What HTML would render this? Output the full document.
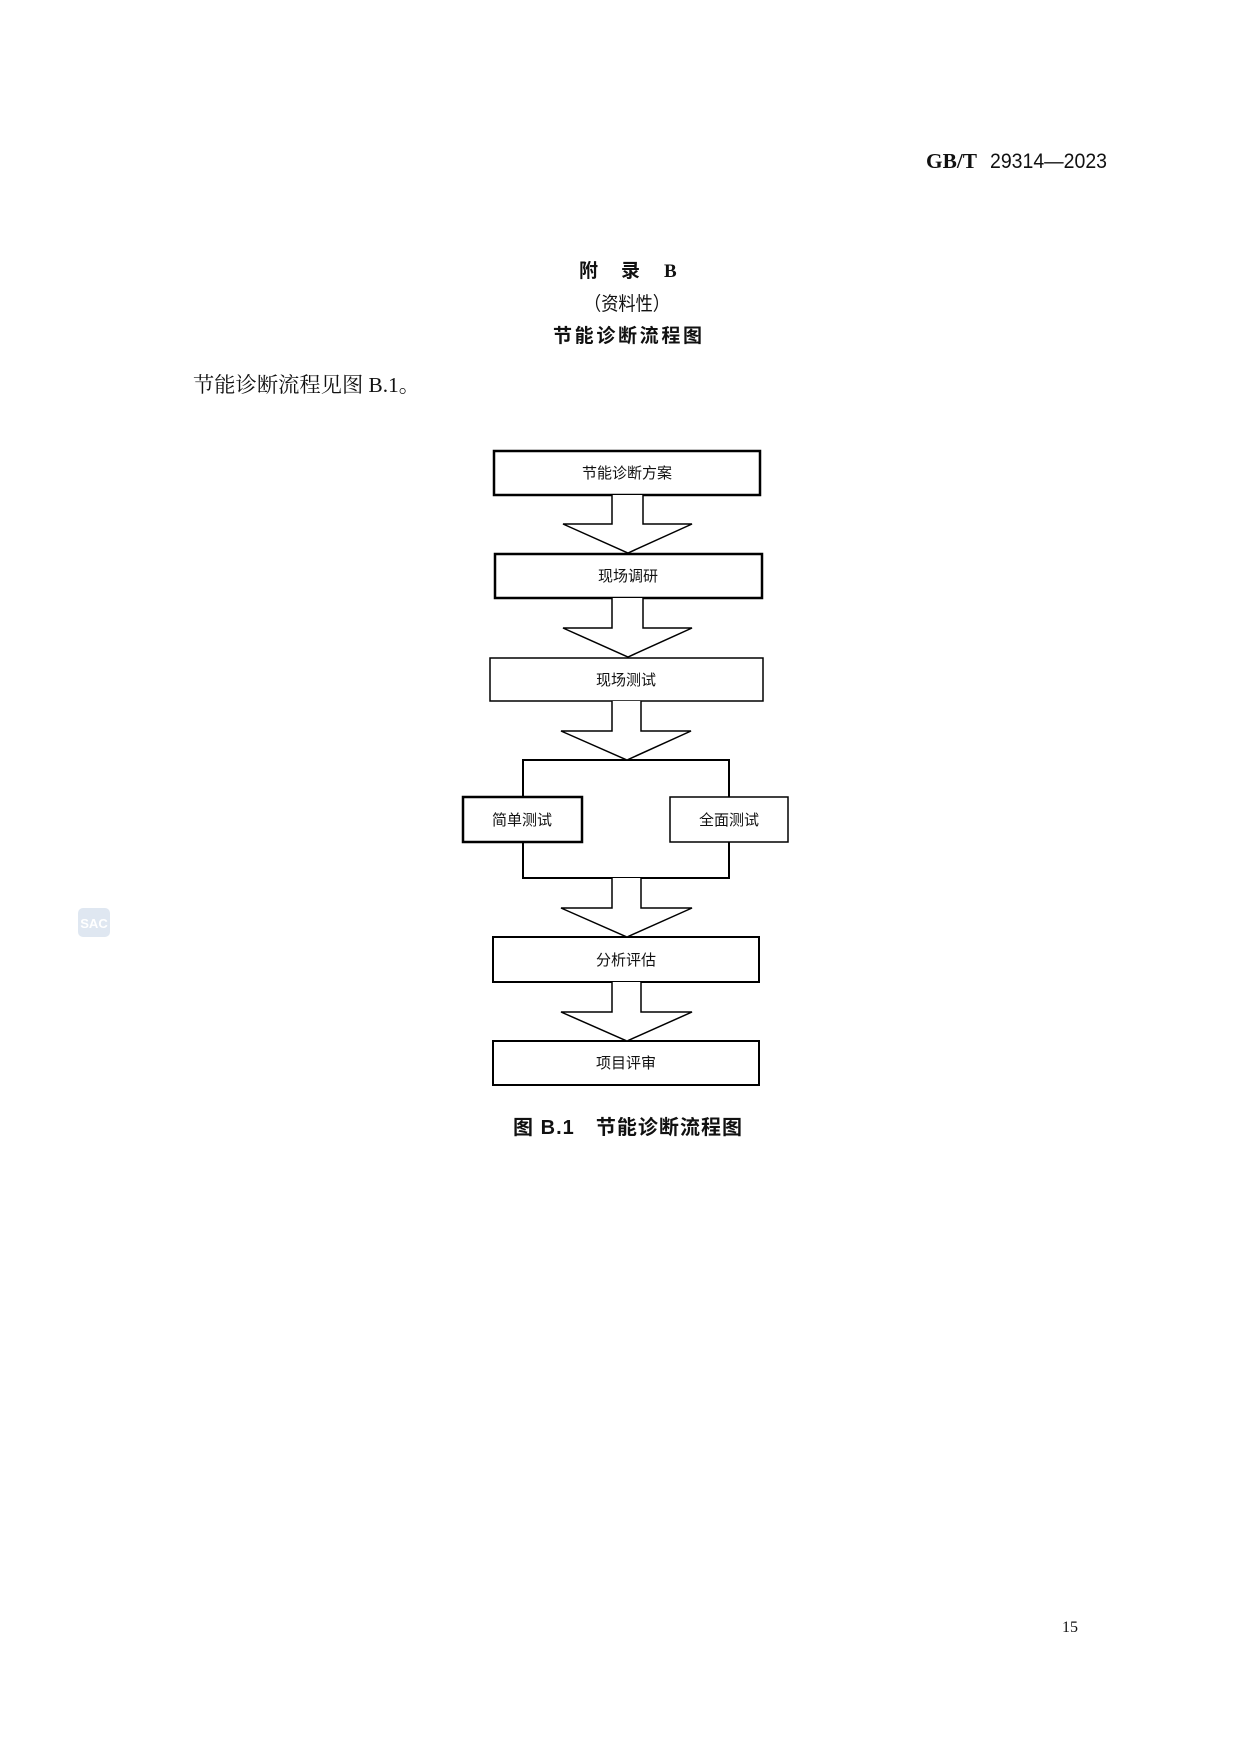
<!DOCTYPE html>
<html><head><meta charset="utf-8"><style>
html,body{margin:0;padding:0;background:#fff;}
svg{display:block}
</style></head><body>
<svg width="1241" height="1755" viewBox="0 0 1241 1755" xmlns="http://www.w3.org/2000/svg">
<rect width="1241" height="1755" fill="#fff"/>
<g font-family="'Liberation Serif','Noto Serif CJK SC',serif" fill="#111">
<text x="926" y="168" font-size="21" font-weight="bold" textLength="51" lengthAdjust="spacingAndGlyphs">GB/T</text>
<text x="990" y="168" font-size="21" font-family="'Liberation Sans',sans-serif" textLength="117" lengthAdjust="spacingAndGlyphs">29314—2023</text>
<text x="579" y="277" font-size="19" font-weight="bold" font-family="'Liberation Serif','Noto Sans CJK SC',sans-serif">附</text>
<text x="621" y="277" font-size="19" font-weight="bold" font-family="'Liberation Serif','Noto Sans CJK SC',sans-serif">录</text>
<text x="664" y="277" font-size="19" font-weight="bold">B</text>
<text x="627" y="310" font-size="19" text-anchor="middle" font-family="'Liberation Sans','Noto Sans CJK SC',sans-serif" textLength="86" lengthAdjust="spacingAndGlyphs">（资料性）</text>
<text x="553" y="342" font-size="19" font-weight="bold" font-family="'Liberation Sans','Noto Sans CJK SC',sans-serif" textLength="149" lengthAdjust="spacing">节能诊断流程图</text>
<text x="193" y="392" font-size="21" font-family="'Liberation Serif','Noto Serif CJK SC',serif" textLength="227" lengthAdjust="spacingAndGlyphs">节能诊断流程见图 B.1。</text>
<text x="1062" y="1632" font-size="16">15</text>
</g>
<rect x="78" y="908" width="32" height="29" rx="5" fill="#dfe7f1"/>
<text x="94" y="928" font-size="13" font-family="'Liberation Sans',sans-serif" font-weight="bold" fill="#fff" text-anchor="middle">SAC</text>

<g fill="none" stroke="#000">
<!-- boxes -->
<rect x="494" y="451" width="266" height="44" stroke-width="2.5"/>
<rect x="495" y="554" width="267" height="44" stroke-width="2.5"/>
<rect x="490" y="658" width="273" height="43" stroke-width="1.5"/>
<rect x="523" y="760" width="206" height="118" stroke-width="2"/>
<rect x="493" y="937" width="266" height="45" stroke-width="2"/>
<rect x="493" y="1041" width="266" height="44" stroke-width="2"/>
</g>
<g fill="#fff" stroke="#000">
<rect x="463" y="797" width="119" height="45" stroke-width="2.5"/>
<rect x="670" y="797" width="118" height="45" stroke-width="1.5"/>
</g>
<g fill="#fff" stroke="#000" stroke-width="1.5" stroke-linejoin="miter">
<polyline points="612,495 612,524 563,524 628,553 692,524 643,524 643,495"/>
<polyline points="612,598 612,628 563,628 628,657 692,628 643,628 643,598"/>
<polyline points="612,701 612,731 561,731 627,760 691,731 641,731 641,701"/>
<polyline points="612,878 612,908 561,908 627,937 692,908 641,908 641,878"/>
<polyline points="612,982 612,1012 561,1012 627,1041 692,1012 641,1012 641,982"/>
</g>
<g font-family="'Liberation Sans','Noto Sans CJK SC',sans-serif" font-size="15" fill="#111" text-anchor="middle">
<text x="627" y="478">节能诊断方案</text>
<text x="628" y="581">现场调研</text>
<text x="626" y="685">现场测试</text>
<text x="522" y="825">简单测试</text>
<text x="729" y="825">全面测试</text>
<text x="626" y="965">分析评估</text>
<text x="626" y="1068">项目评审</text>
</g>
<text x="513" y="1134" font-size="20" font-weight="bold" font-family="'Liberation Sans','Noto Sans CJK SC',sans-serif" fill="#111" textLength="229" lengthAdjust="spacing">图 B.1　节能诊断流程图</text>
</svg>
</body></html>
